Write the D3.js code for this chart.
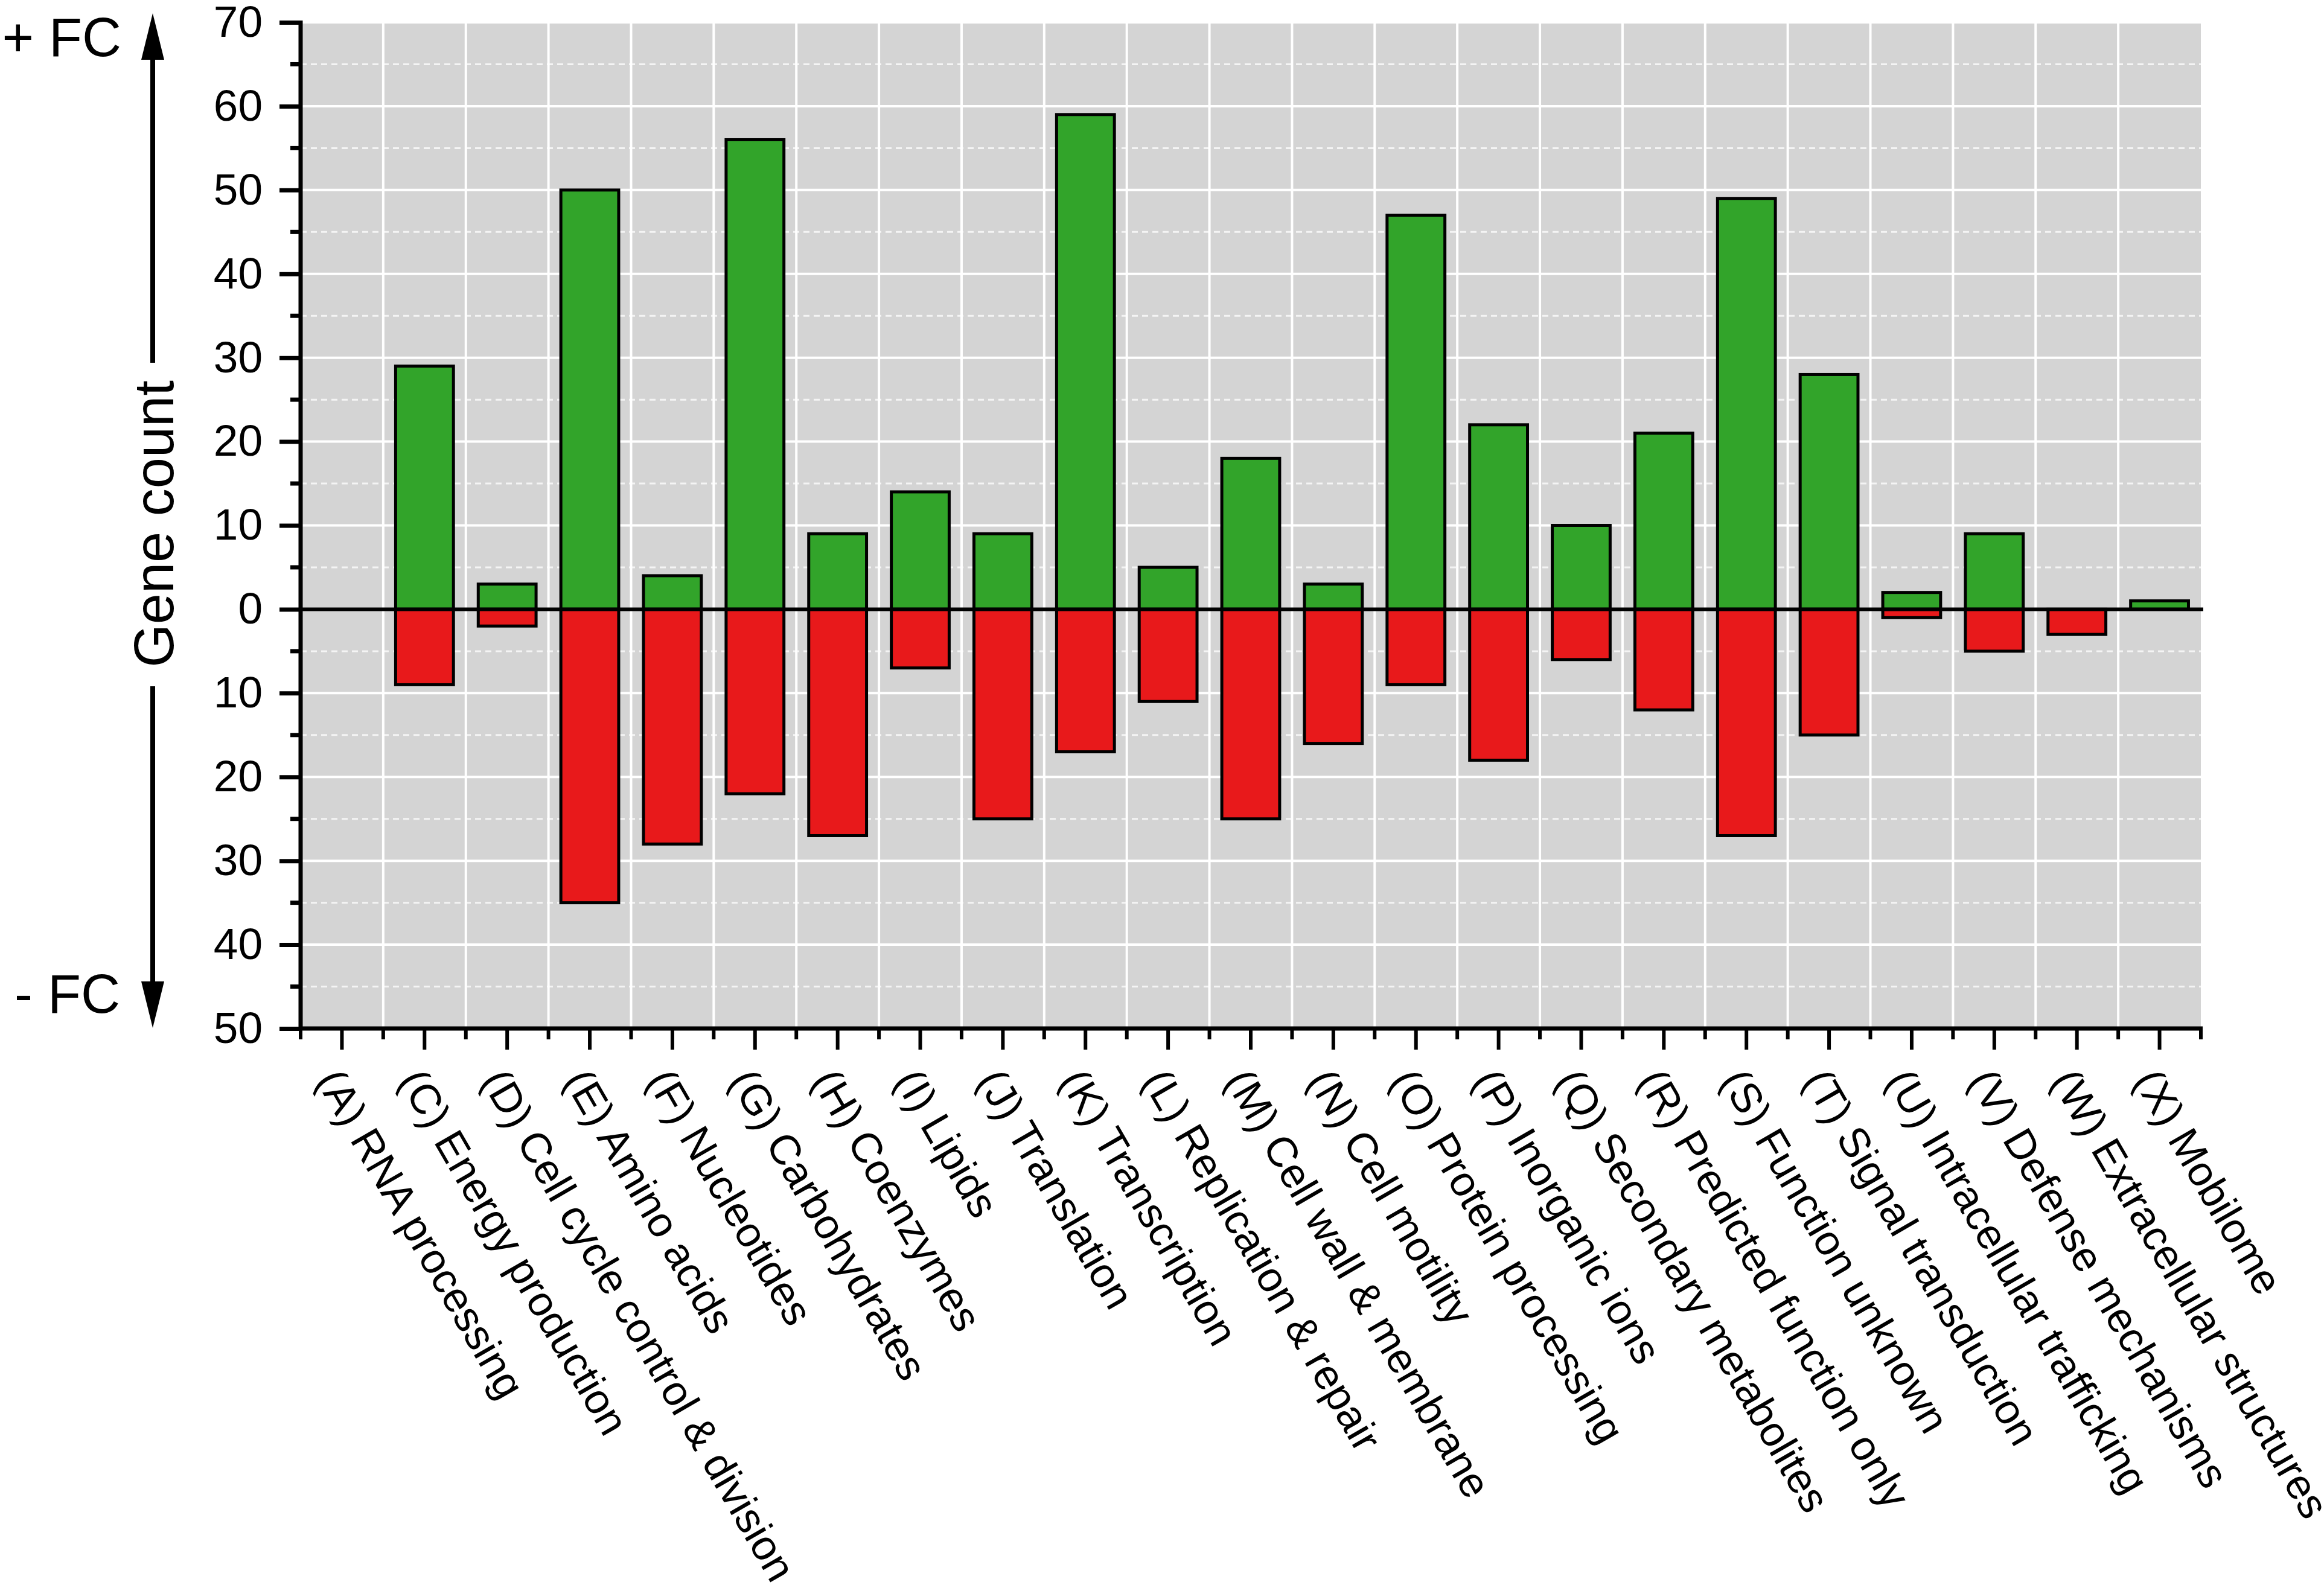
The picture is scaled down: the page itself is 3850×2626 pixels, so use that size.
<!DOCTYPE html>
<html>
<head>
<meta charset="utf-8">
<title>COG gene count</title>
<script src="https://d3js.org/d3.v7.min.js"></script>
<style>
  body { margin: 0; background: #fff; }
  text { font-family: "Liberation Sans", Arial, sans-serif; fill: #000; }
</style>
</head>
<body>
<div id="chart"></div>
<script>
// COG categories
var codes = ["A","C","D","E","F","G","H","I","J","K","L","M","N","O","P","Q","R","S","T","U","V","W","X"];
var names = ["RNA processing","Energy production","Cell cycle control & division","Amino acids",
  "Nucleotides","Carbohydrates","Coenzymes","Lipids","Translation","Transcription",
  "Replication & repair","Cell wall & membrane","Cell motility","Protein processing",
  "Inorganic ions","Secondary metabolites","Predicted function only","Function unknown",
  "Signal transduction","Intracellular trafficking","Defense mechanisms",
  "Extracellular structures","Mobilome"];
// gene counts, + FC (up) and - FC (down)
var upCounts   = [0,29,3,50,4,56,9,14,9,59,5,18,3,47,22,10,21,49,28,2,9,0,1];
var downCounts = [0,9,2,35,28,22,27,7,25,17,11,25,16,9,18,6,12,27,15,1,5,3,0];
var yTicks = [-50,-40,-30,-20,-10,0,10,20,30,40,50,60,70];

var width = 3850, height = 2626;
var plotLeft = 498, plotRight = 3646, plotTop = 37, plotBottom = 1704;

var svg = d3.select("#chart").append("svg")
  .attr("width", width)
  .attr("height", height);

var x = d3.scaleBand()
  .domain(codes)
  .range([plotLeft, plotRight])
  .paddingInner(0.3)
  .paddingOuter(0.15);

var step = x.step();

var y = d3.scaleLinear()
  .domain([-50, 70])
  .range([plotBottom, plotTop]);

// plot background
svg.append("rect")
  .attr("x", plotLeft).attr("y", plotTop)
  .attr("width", plotRight - plotLeft).attr("height", plotBottom - plotTop)
  .attr("fill", "#d4d4d4");

// minor horizontal grid (dashed)
var minorVals = d3.range(-45, 70, 10);
svg.append("g").selectAll("line")
  .data(minorVals).enter()
  .append("line")
  .attr("x1", plotLeft).attr("x2", plotRight)
  .attr("y1", function(d){ return y(d); })
  .attr("y2", function(d){ return y(d); })
  .attr("stroke", "#f4f4f4")
  .attr("stroke-width", 3)
  .attr("stroke-dasharray", "10,7");

// major horizontal grid
svg.append("g").selectAll("line")
  .data(yTicks.filter(function(d){ return d !== -50 && d !== 0; })).enter()
  .append("line")
  .attr("x1", plotLeft).attr("x2", plotRight)
  .attr("y1", function(d){ return y(d); })
  .attr("y2", function(d){ return y(d); })
  .attr("stroke", "#fff")
  .attr("stroke-width", 4);

// vertical grid at category edges
svg.append("g").selectAll("line")
  .data(codes.slice(1)).enter()
  .append("line")
  .attr("x1", function(d){ return x(d) - step * 0.15; })
  .attr("x2", function(d){ return x(d) - step * 0.15; })
  .attr("y1", plotTop).attr("y2", plotBottom)
  .attr("stroke", "#fff")
  .attr("stroke-width", 4);

var rows = codes.map(function(c, i){ return {code: c, up: upCounts[i], down: downCounts[i]}; });

// green bars (+FC)
svg.append("g").selectAll("rect")
  .data(rows.filter(function(d){ return d.up > 0; })).enter()
  .append("rect")
  .attr("x", function(d){ return x(d.code); })
  .attr("width", x.bandwidth())
  .attr("y", function(d){ return y(d.up); })
  .attr("height", function(d){ return y(0) - y(d.up); })
  .attr("fill", "#32a42a")
  .attr("stroke", "#000")
  .attr("stroke-width", 5);

// red bars (-FC), drawn downward
svg.append("g").selectAll("rect")
  .data(rows.filter(function(d){ return d.down > 0; })).enter()
  .append("rect")
  .attr("x", function(d){ return x(d.code); })
  .attr("width", x.bandwidth())
  .attr("y", y(0))
  .attr("height", function(d){ return y(-d.down) - y(0); })
  .attr("fill", "#e8191b")
  .attr("stroke", "#000")
  .attr("stroke-width", 5);

// zero line
svg.append("line")
  .attr("x1", plotLeft).attr("x2", plotRight + 4)
  .attr("y1", y(0)).attr("y2", y(0))
  .attr("stroke", "#000")
  .attr("stroke-width", 6);

// y axis
var yAxis = d3.axisLeft(y)
  .tickValues(yTicks)
  .tickFormat(function(d){ return Math.abs(d); })
  .tickSize(35)
  .tickPadding(28);

var gy = svg.append("g")
  .attr("transform", "translate(" + plotLeft + ",0)")
  .call(yAxis);
gy.select(".domain").attr("stroke-width", 7).attr("d", "M0," + (plotTop - 3) + "V" + (plotBottom + 3));
gy.selectAll(".tick line").attr("stroke-width", 7);
gy.selectAll(".tick text")
  .style("font-family", '"Liberation Sans", Arial, sans-serif')
  .style("font-size", "73px");

// minor y ticks
gy.append("g").selectAll("line")
  .data(minorVals).enter()
  .append("line")
  .attr("x1", -17).attr("x2", 0)
  .attr("y1", function(d){ return y(d); })
  .attr("y2", function(d){ return y(d); })
  .attr("stroke", "#000")
  .attr("stroke-width", 7);

// x axis
var xAxis = d3.axisBottom(x)
  .tickSize(35)
  .tickFormat("");

var gx = svg.append("g")
  .attr("transform", "translate(0," + plotBottom + ")")
  .call(xAxis);
gx.select(".domain").attr("stroke-width", 7).attr("d", "M" + (plotLeft - 3) + ",0H" + (plotRight + 3));
gx.selectAll(".tick line").attr("stroke-width", 6);

// minor x ticks at category edges
var edges = codes.map(function(c){ return x(c) - step * 0.15; }).concat([plotRight]);
gx.append("g").selectAll("line")
  .data(edges).enter()
  .append("line")
  .attr("x1", function(d){ return d; })
  .attr("x2", function(d){ return d; })
  .attr("y1", 0).attr("y2", 18)
  .attr("stroke", "#000")
  .attr("stroke-width", 6);

// rotated category labels
svg.append("g").selectAll("text")
  .data(codes).enter()
  .append("text")
  .attr("transform", function(d){
    var cx = x(d) + x.bandwidth() / 2;
    return "translate(" + (cx - 44) + "," + (plotBottom + 86) + ") rotate(60)";
  })
  .style("font-size", "70px")
  .text(function(d, i){ return "(" + d + ") " + names[i]; });

// y title with up/down arrows
var ax = 253;
svg.append("text")
  .attr("transform", "translate(" + (ax + 34) + "," + 868 + ") rotate(-90)")
  .attr("text-anchor", "middle")
  .style("font-size", "92px")
  .text("Gene count");

svg.append("line")
  .attr("x1", ax).attr("x2", ax)
  .attr("y1", 90).attr("y2", 601)
  .attr("stroke", "#000").attr("stroke-width", 8);
svg.append("line")
  .attr("x1", ax).attr("x2", ax)
  .attr("y1", 1137).attr("y2", 1632)
  .attr("stroke", "#000").attr("stroke-width", 8);
svg.append("path")
  .attr("d", "M" + ax + ",22L" + (ax - 19) + ",99L" + (ax + 19) + ",99Z")
  .attr("fill", "#000");
svg.append("path")
  .attr("d", "M" + ax + ",1703L" + (ax - 19) + ",1626L" + (ax + 19) + ",1626Z")
  .attr("fill", "#000");

svg.append("text")
  .attr("x", 201).attr("y", 93)
  .attr("text-anchor", "end")
  .style("font-size", "90px")
  .text("+ FC");
svg.append("text")
  .attr("x", 199).attr("y", 1678)
  .attr("text-anchor", "end")
  .style("font-size", "90px")
  .text("- FC");
</script>
</body>
</html>
